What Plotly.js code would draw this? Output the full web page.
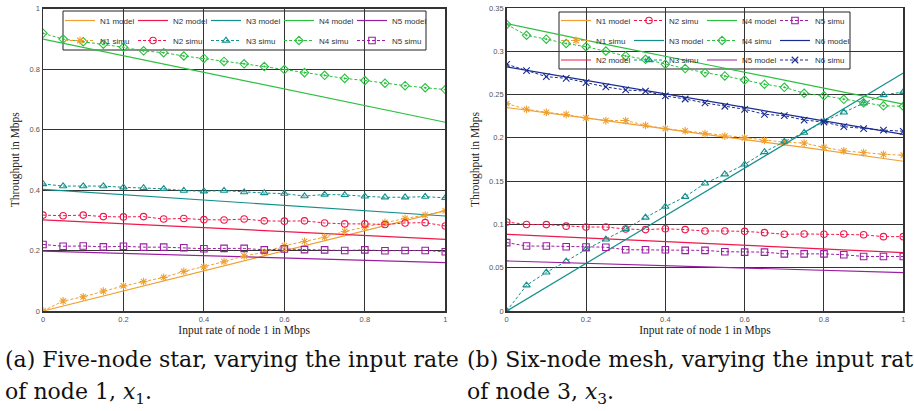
<!DOCTYPE html>
<html>
<head>
<meta charset="utf-8">
<script src="https://cdn.plot.ly/plotly-3.0.1.min.js"></script>
<style>html,body{margin:0;padding:0;background:#fff;}#chart{width:914px;height:411px;}</style>
</head>
<body>
<div id="chart"></div>
<script>
// ---------- data: (a) five-node star ----------
var xSim = [0,0.05,0.1,0.15,0.2,0.25,0.3,0.35,0.4,0.45,0.5,0.55,0.6,0.65,0.7,0.75,0.8,0.85,0.9,0.95,1];
var xModel = [0,0.25,0.5,0.75,1];

var starN1Model = [0,0.083,0.166,0.249,0.332];
var starN2Model = [0.301,0.285,0.269,0.253,0.237];
var starN3Model = [0.402,0.380,0.358,0.336,0.314];
var starN4Model = [0.899,0.830,0.762,0.693,0.624];
var starN5Model = [0.198,0.189,0.179,0.170,0.160];

var starN1Simu = [0.0,0.033,0.047,0.066,0.083,0.097,0.111,0.131,0.146,0.163,0.182,0.194,0.216,0.230,0.244,0.263,0.277,0.293,0.306,0.317,0.331];
var starN2Simu = [0.317,0.315,0.317,0.312,0.311,0.312,0.304,0.306,0.302,0.301,0.304,0.298,0.297,0.298,0.291,0.288,0.288,0.286,0.291,0.292,0.281];
var starN3Simu = [0.420,0.413,0.413,0.413,0.409,0.407,0.404,0.398,0.396,0.398,0.393,0.390,0.388,0.380,0.385,0.384,0.379,0.376,0.376,0.378,0.374];
var starN4Simu = [0.918,0.899,0.890,0.882,0.872,0.860,0.854,0.843,0.835,0.825,0.817,0.808,0.798,0.788,0.779,0.769,0.762,0.753,0.745,0.738,0.732];
var starN5Simu = [0.220,0.214,0.215,0.212,0.214,0.211,0.211,0.209,0.206,0.207,0.207,0.202,0.205,0.203,0.202,0.200,0.202,0.199,0.200,0.200,0.196];

// ---------- data: (b) six-node mesh ----------
var meshN1Model = [0.235,0.220,0.204,0.189,0.173];
var meshN2Model = [0.0886,0.0833,0.0780,0.0727,0.0674];
var meshN3Model = [0,0.069,0.1375,0.206,0.275];
var meshN4Model = [0.332,0.308,0.285,0.262,0.239];
var meshN5Model = [0.0578,0.0544,0.0510,0.0477,0.0443];
var meshN6Model = [0.282,0.2625,0.243,0.2235,0.204];

var meshN1Simu = [0.2395,0.233,0.2295,0.227,0.223,0.220,0.220,0.2145,0.2106,0.208,0.205,0.202,0.200,0.197,0.195,0.194,0.189,0.185,0.183,0.181,0.180];
var meshN2Simu = [0.1028,0.100,0.0998,0.098,0.097,0.097,0.0947,0.094,0.095,0.094,0.0924,0.0924,0.092,0.0905,0.0886,0.089,0.0886,0.089,0.088,0.0859,0.0859];
var meshN3Simu = [0,0.0297,0.0447,0.0574,0.0712,0.0828,0.0947,0.108,0.1205,0.132,0.1475,0.158,0.1694,0.1837,0.1956,0.206,0.219,0.2295,0.240,0.2495,0.253];
var meshN4Simu = [0.331,0.3185,0.314,0.309,0.3053,0.3003,0.2946,0.2907,0.285,0.280,0.2753,0.2715,0.2668,0.262,0.2584,0.2515,0.2487,0.2445,0.2406,0.237,0.2365];
var meshN5Simu = [0.079,0.075,0.075,0.0743,0.074,0.0737,0.0708,0.0708,0.0708,0.070,0.070,0.0685,0.068,0.068,0.066,0.066,0.066,0.065,0.063,0.063,0.063];
var meshN6Simu = [0.285,0.2776,0.2707,0.2688,0.2637,0.2588,0.2553,0.254,0.2484,0.2449,0.2403,0.2365,0.233,0.2272,0.2256,0.2206,0.2183,0.2129,0.2106,0.209,0.2076];

var xTitle = "Input rate of node 1 in Mbps";
var yTitle = "Throughput in Mbps";
var captionA1 = "(a) Five-node star, varying the input rate";
var captionA2 = "of node 1, <i>x</i><sub>1</sub>.";
var captionB1 = "(b) Six-node mesh, varying the input rate";
var captionB2 = "of node 3, <i>x</i><sub>3</sub>.";

// ---------- styles ----------
var C = {N1:'#f0a030', N2:'#f0184a', N3:'#13908c', N4:'#2cc040', N5:'#9a1ea0', N6:'#1a2a90'};
var SYM = {N1:'asterisk-open', N2:'circle-open', N3:'triangle-up-open', N4:'diamond-open-dot', N5:'square-open', N6:'x-thin-open'};

function model(key, y, xa, ya, leg, rank, lastInRow) {
  var t = {x:xModel, y:y, name:key+' model', type:'scatter', mode:'lines',
    line:{color:C[key], width:1.2}, xaxis:xa, yaxis:ya, legend:leg, legendrank:rank};
  if (lastInRow) t.legendwidth = 45;
  return t;
}
function simu(key, y, xa, ya, leg, rank, lastInRow) {
  var t = {x:xSim, y:y, name:key+' simu', type:'scatter', mode:'lines+markers',
    line:{color:C[key], width:1, dash:'3px,2px'},
    marker:{symbol:SYM[key], size:6.5, color:C[key], line:{color:C[key], width:1.1}},
    xaxis:xa, yaxis:ya, legend:leg, legendrank:rank};
  if (lastInRow) t.legendwidth = 45;
  return t;
}

var traces = [
  // star: row 1 models, row 2 simus
  model('N1', starN1Model, 'x', 'y', 'legend', 1),
  model('N2', starN2Model, 'x', 'y', 'legend', 2),
  model('N3', starN3Model, 'x', 'y', 'legend', 3),
  model('N4', starN4Model, 'x', 'y', 'legend', 4),
  model('N5', starN5Model, 'x', 'y', 'legend', 5, true),
  simu('N1', starN1Simu, 'x', 'y', 'legend2', 1),
  simu('N2', starN2Simu, 'x', 'y', 'legend2', 2),
  simu('N3', starN3Simu, 'x', 'y', 'legend2', 3),
  simu('N4', starN4Simu, 'x', 'y', 'legend2', 4),
  simu('N5', starN5Simu, 'x', 'y', 'legend2', 5, true),
  // mesh rows: [N1m,N2s,N4m,N5s],[N1s,N3m,N4s,N6m],[N2m,N3s,N5m,N6s]
  model('N1', meshN1Model, 'x2', 'y2', 'legend3', 1),
  simu('N1', meshN1Simu, 'x2', 'y2', 'legend4', 1),
  model('N2', meshN2Model, 'x2', 'y2', 'legend5', 1),
  simu('N2', meshN2Simu, 'x2', 'y2', 'legend3', 2),
  model('N3', meshN3Model, 'x2', 'y2', 'legend4', 2),
  simu('N3', meshN3Simu, 'x2', 'y2', 'legend5', 2),
  model('N4', meshN4Model, 'x2', 'y2', 'legend3', 3),
  simu('N4', meshN4Simu, 'x2', 'y2', 'legend4', 3),
  model('N5', meshN5Model, 'x2', 'y2', 'legend5', 3),
  simu('N5', meshN5Simu, 'x2', 'y2', 'legend3', 4, true),
  model('N6', meshN6Model, 'x2', 'y2', 'legend4', 4, true),
  simu('N6', meshN6Simu, 'x2', 'y2', 'legend5', 4, true)
];

var W = 914, H = 411;
function fx(x){return x/W;}
function fy(y){return 1 - y/H;}

var tickFont = {family:'Liberation Sans', size:7.5, color:'#555'};
var titleFont = {family:'Liberation Serif', size:11.5, color:'#222'};
function xax(dom, anchor) {
  return {domain:dom, anchor:anchor, range:[0,1], dtick:0.2, tick0:0,
    showline:true, mirror:true, linecolor:'#333', linewidth:1.5,
    showgrid:true, gridcolor:'#333', gridwidth:1, zeroline:false,
    ticks:'', tickfont:tickFont,
    title:{text:xTitle, font:titleFont, standoff:3}};
}
function yax(dom, anchor, range, dtick) {
  return {domain:dom, anchor:anchor, range:range, dtick:dtick, tick0:0,
    showline:true, mirror:true, linecolor:'#333', linewidth:1.5,
    showgrid:true, gridcolor:'#333', gridwidth:1, zeroline:false,
    ticks:'', tickfont:tickFont,
    title:{text:yTitle, font:titleFont, standoff:7}};
}

var legFont = {family:'Liberation Sans', size:8, color:'#333'};
function leg(xpx, ypx) {
  return {orientation:'h', x:fx(xpx), y:fy(ypx), xanchor:'left', yanchor:'middle',
    bgcolor:'rgba(0,0,0,0)', borderwidth:0, font:legFont,
    entrywidth:28, entrywidthmode:'pixels', itemwidth:30};
}
var capFont = {family:'DejaVu Serif', size:22, color:'#111'};

var layout = {
  width:W, height:H, margin:{l:0,r:0,t:0,b:0}, paper_bgcolor:'#fff', plot_bgcolor:'#fff',
  xaxis: xax([fx(43), fx(445.3)], 'y'),
  yaxis: yax([fy(311), fy(8.5)], 'x', [0,1], 0.2),
  xaxis2: xax([fx(506.7), fx(903.3)], 'y2'),
  yaxis2: yax([fy(311), fy(8)], 'x2', [0,0.35], 0.05),
  legend: leg(60, 20.5),
  legend2: leg(60, 40.5),
  legend3: leg(556, 20.5),
  legend4: leg(556, 40.5),
  legend5: leg(556, 60),
  shapes: [
    {type:'rect', xref:'paper', yref:'paper', x0:fx(63), x1:fx(426), y0:fy(50), y1:fy(11),
     fillcolor:'#fff', line:{color:'#222', width:1}, layer:'between'},
    {type:'rect', xref:'paper', yref:'paper', x0:fx(559), x1:fx(850), y0:fy(69), y1:fy(12),
     fillcolor:'#fff', line:{color:'#222', width:1}, layer:'between'}
  ],
  annotations: [
    {text:captionA1, xref:'paper', yref:'paper', x:fx(3), y:fy(359), xanchor:'left', yanchor:'middle', showarrow:false, font:capFont},
    {text:captionA2, xref:'paper', yref:'paper', x:fx(3), y:fy(393), xanchor:'left', yanchor:'middle', showarrow:false, font:capFont},
    {text:captionB1, xref:'paper', yref:'paper', x:fx(465), y:fy(359), xanchor:'left', yanchor:'middle', showarrow:false, font:capFont},
    {text:captionB2, xref:'paper', yref:'paper', x:fx(465), y:fy(393), xanchor:'left', yanchor:'middle', showarrow:false, font:capFont}
  ]
};

Plotly.newPlot('chart', traces, layout, {displayModeBar:false, staticPlot:true});
</script>
</body>
</html>
